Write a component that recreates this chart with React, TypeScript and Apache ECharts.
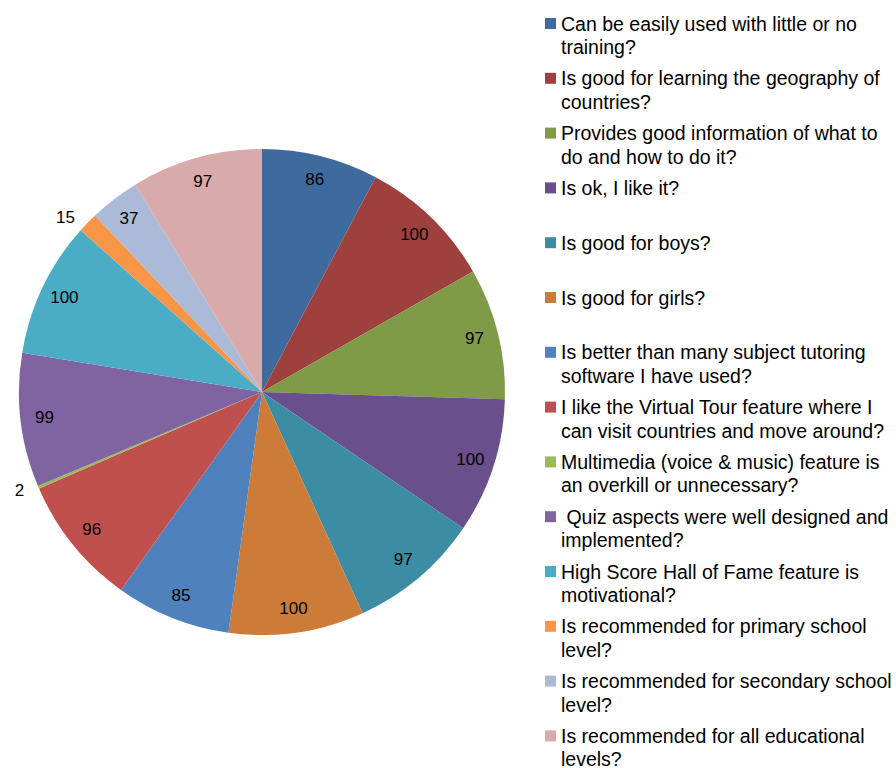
import React, { useEffect, useRef } from "react";
import * as echarts from "echarts";

const categories: string[] = [
  "Can be easily used with little or no\ntraining?",
  "Is good for learning the geography of\ncountries?",
  "Provides good information of what to\ndo and how to do it?",
  "Is ok, I like it?",
  "Is good for boys?",
  "Is good for girls?",
  "Is better than many subject tutoring\nsoftware I have used?",
  "I like the Virtual Tour feature where I\ncan visit countries and move around?",
  "Multimedia (voice & music) feature is\nan overkill or unnecessary?",
  " Quiz aspects were well designed and\nimplemented?",
  "High Score Hall of Fame feature is\nmotivational?",
  "Is recommended for primary school\nlevel?",
  "Is recommended for secondary school\nlevel?",
  "Is recommended for all educational\nlevels?",
];

const values: number[] = [86, 100, 97, 100, 97, 100, 85, 96, 2, 99, 100, 15, 37, 97];

const colors: string[] = [
  "#3F6A9E", "#9E413E", "#7F9B48", "#694F8B", "#3C8DA3", "#CC7B38",
  "#4F81BD", "#C0504D", "#9BBB59", "#8064A2", "#4BACC6", "#F79646",
  "#AABAD7", "#D9AAAA",
];

// slices whose value label sits outside the pie
const outsideLabelIdx: number[] = [8, 11];

export default function App() {
  const ref = useRef<HTMLDivElement>(null);

  useEffect(() => {
    if (!ref.current) return;
    const chart = echarts.init(ref.current, undefined, { renderer: "svg" });
    const font = "'Liberation Sans', Arial, sans-serif";

    const mainData = categories.map((name, i) => {
      const outside = outsideLabelIdx.includes(i);
      return {
        name,
        value: values[i],
        itemStyle: { color: colors[i] },
        label: outside
          ? {
              show: true,
              position: "outside" as const,
              color: "#000000",
              fontFamily: font,
              fontSize: 17,
            }
          : { show: false },
        labelLine: { show: false, length: 8, length2: 3 },
      };
    });

    const overlayData = categories.map((name, i) => ({
      name,
      value: values[i],
      itemStyle: { color: "rgba(0,0,0,0)" },
      label: { show: !outsideLabelIdx.includes(i) },
    }));

    chart.setOption({
      animation: false,
      backgroundColor: "#ffffff",
      color: colors,
      legend: {
        orient: "vertical",
        left: 545,
        top: -11.75,
        height: 1200,
        padding: 0,
        itemGap: -15.7,
        itemWidth: 11,
        itemHeight: 11,
        icon: "rect",
        selectedMode: false,
        data: categories,
        formatter: (name: string) => {
          const lines = name.split("\n");
          return lines.length === 1 ? "\n" + name + "\n" : "\n" + name;
        },
        textStyle: {
          fontFamily: font,
          fontSize: 19.5,
          lineHeight: 23.5,
          color: "#000000",
        },
      },
      series: [
        {
          type: "pie",
          name: "main",
          center: [262, 392],
          radius: 243,
          startAngle: 90,
          clockwise: true,
          avoidLabelOverlap: false,
          silent: true,
          itemStyle: { borderWidth: 0 },
          label: {
            show: false,
            formatter: "{c}",
            fontFamily: font,
            fontSize: 17,
            color: "#000000",
            distanceToLabelLine: 4,
          },
          emphasis: { disabled: true },
          data: mainData,
        },
        {
          type: "pie",
          name: "labels",
          center: [262, 392],
          radius: [189, 243],
          startAngle: 90,
          clockwise: true,
          silent: true,
          legendHoverLink: false,
          itemStyle: { borderWidth: 0 },
          label: {
            show: true,
            position: "inside",
            formatter: "{c}",
            fontFamily: font,
            fontSize: 17,
            color: "#000000",
          },
          labelLine: { show: false },
          emphasis: { disabled: true },
          data: overlayData,
        },
      ],
    });

    return () => {
      chart.dispose();
    };
  }, []);

  return (
    <div
      ref={ref}
      style={{ position: "absolute", left: 0, top: 0, width: 896, height: 768 }}
    />
  );
}
